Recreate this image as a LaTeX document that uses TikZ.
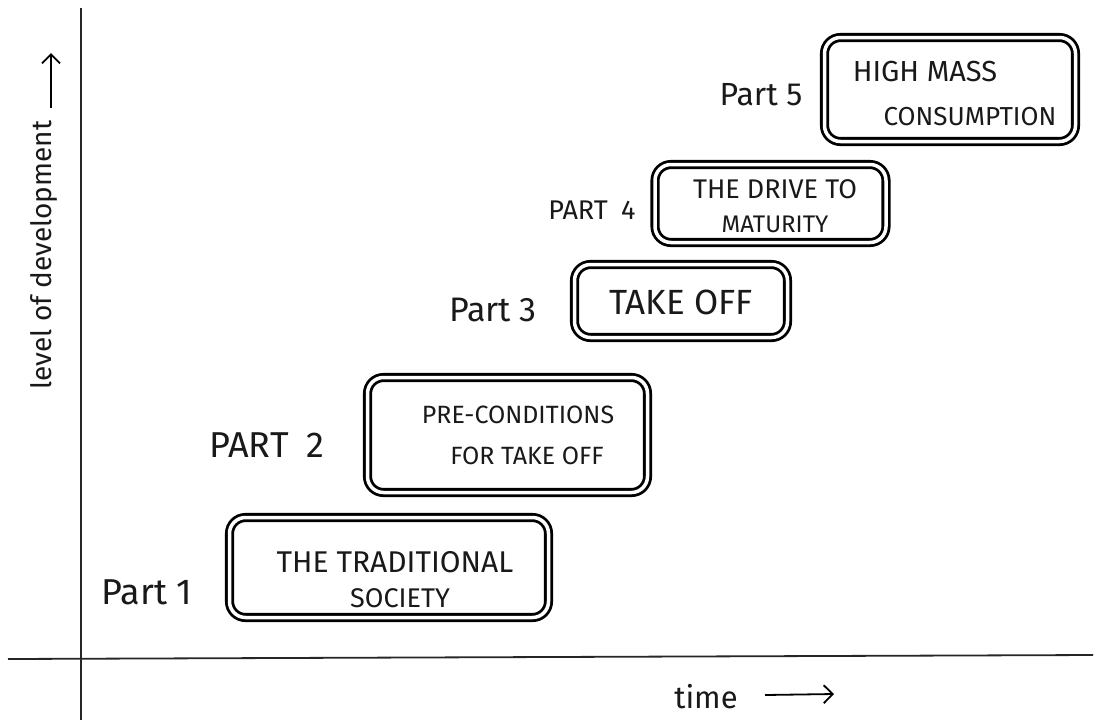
\documentclass[tikz,border=0pt]{standalone}
\usepackage{fontspec}
\setmainfont{Fira Sans}
\usetikzlibrary{arrows.meta}
\begin{document}
\begin{tikzpicture}[x=1pt,y=-1pt,
  axis/.style={line width=1.8pt, black!85},
  stagebox/.style={draw=black, line width=2.8pt, double=white, double distance=3.5pt,
    rounded corners=16pt, inner sep=0pt, rectangle},
  txt/.style={inner sep=0pt, anchor=center, align=center, text=black!90},
  handarrow/.style={line width=1.8pt, -{Straight Barb[length=9pt,width=18pt,line width=1.8pt]}}
]
\useasboundingbox[fill=white] (0,0) rectangle (1095,721);

% axes
\coordinate (ybot) at (81,720);
\coordinate (ytop) at (81,8);
\coordinate (xleft) at (8,659);
\coordinate (xright) at (1093,655);
\draw[axis] (ybot) -- (ytop);
\draw[axis] (xleft) -- (xright);

% axis labels
\node[txt, rotate=90, font=\fontsize{28}{30}\selectfont] (ylab) at (44,255) {level of development};
\coordinate (yarrA) at (51,108);
\coordinate (yarrB) at (51,53);
\draw[handarrow] (yarrA) -- (yarrB);

\node[txt, font=\fontsize{31}{34}\selectfont] (xlab) at (706,697) {time};
\coordinate (xarrA) at (765,695);
\coordinate (xarrB) at (834,694);
\draw[handarrow] (xarrA) -- (xarrB);

% stage boxes
\node[stagebox, minimum width=319pt, minimum height=100pt] (b1) at (389,567.5) {};
\node[stagebox, minimum width=280pt, minimum height=115pt] (b2) at (507.5,435) {};
\node[stagebox, minimum width=213pt, minimum height=73pt] (b3) at (681,301) {};
\node[stagebox, minimum width=231pt, minimum height=78pt] (b4) at (770.5,203.5) {};
\node[stagebox, minimum width=251pt, minimum height=104pt] (b5) at (950,89.5) {};

% box texts
\node[txt, font=\fontsize{30}{34}\selectfont] (t1a) at (395,562) {THE TRADITIONAL};
\node[txt, font=\fontsize{27}{30}\selectfont] (t1b) at (400,598) {SOCIETY};
\node[txt, font=\fontsize{25}{28}\selectfont] (t2a) at (518,415) {PRE-CONDITIONS};
\node[txt, font=\fontsize{25}{28}\selectfont] (t2b) at (527,456) {FOR TAKE OFF};
\node[txt, font=\fontsize{35}{38}\selectfont] (t3) at (681,302) {TAKE OFF};
\node[txt, font=\fontsize{27}{30}\selectfont] (t4a) at (775,189) {THE DRIVE TO};
\node[txt, font=\fontsize{24}{27}\selectfont] (t4b) at (775,224) {MATURITY};
\node[txt, font=\fontsize{29}{32}\selectfont] (t5a) at (925,72) {HIGH MASS};
\node[txt, font=\fontsize{26}{29}\selectfont] (t5b) at (970,117) {CONSUMPTION};

% part labels
\node[txt, font=\fontsize{36}{40}\selectfont] (p1) at (147,592) {Part 1};
\node[txt, font=\fontsize{36}{40}\selectfont] (p2) at (267,445) {PART\enspace 2};
\node[txt, font=\fontsize{34}{38}\selectfont] (p3) at (493,310) {Part 3};
\node[txt, font=\fontsize{27}{30}\selectfont] (p4) at (592,210) {PART\enspace 4};
\node[txt, font=\fontsize{32}{36}\selectfont] (p5) at (761,95) {Part 5};
\end{tikzpicture}
\end{document}
